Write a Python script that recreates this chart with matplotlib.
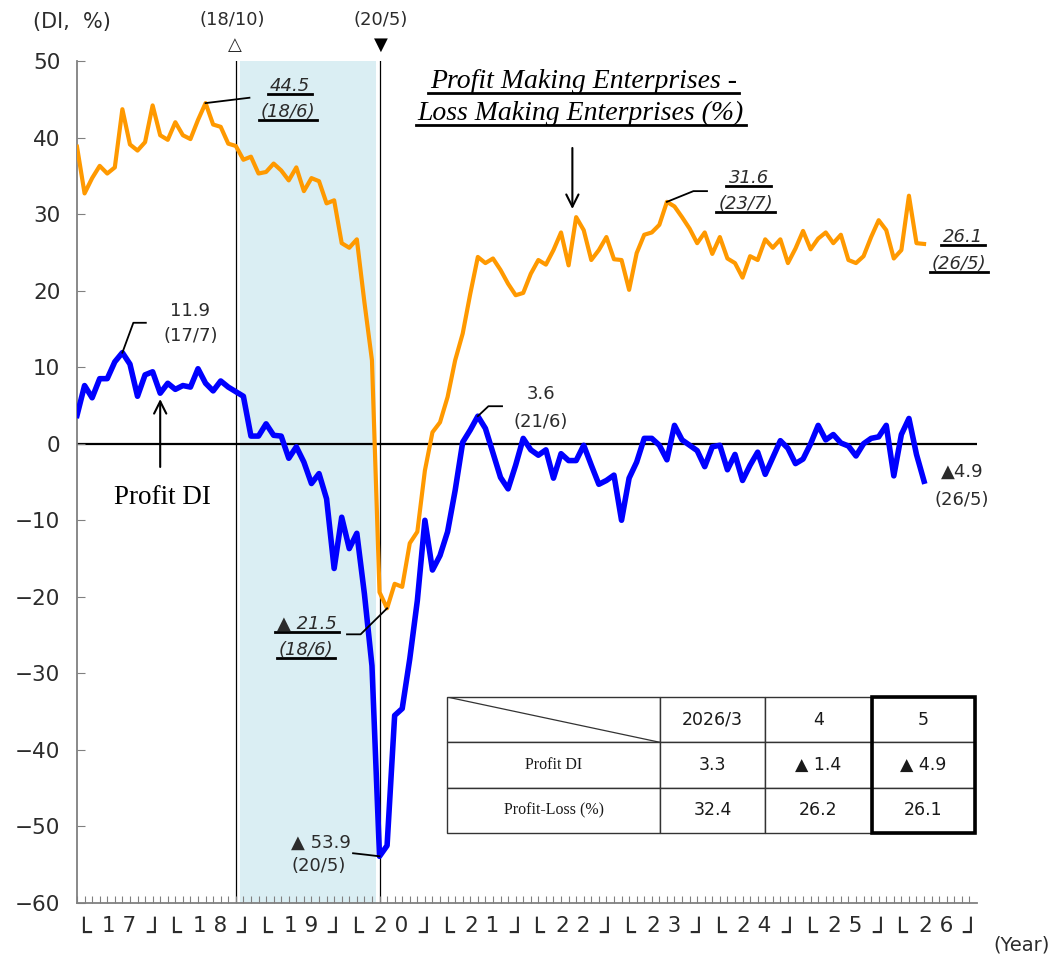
import matplotlib
matplotlib.use('Agg')
import matplotlib.pyplot as plt
import numpy as np
from matplotlib.lines import Line2D
from matplotlib.patches import Rectangle
from matplotlib.transforms import IdentityTransform, blended_transform_factory

plt.rcParams['font.family'] = ['DejaVu Sans']

# monthly, 2017/1 .. 2026/5
profit_di = [
    3.7, 7.6, 6.0, 8.5, 8.5, 10.7, 11.9, 10.4, 6.2, 9.0, 9.4, 6.6,
    7.9, 7.1, 7.6, 7.4, 9.8, 7.9, 6.9, 8.2, 7.4, 6.8, 6.2, 1.0,
    1.0, 2.6, 1.1, 1.0, -1.9, -0.4, -2.4, -5.2, -3.9, -7.2, -16.3, -9.6,
    -13.7, -11.7, -19.6, -29.0, -53.9, -52.5, -35.5, -34.6, -28.1, -20.5, -10.0, -16.5,
    -14.6, -11.5, -6.1, 0.2, 1.8, 3.6, 2.0, -1.2, -4.4, -5.9, -2.8, 0.7,
    -0.8, -1.5, -0.8, -4.5, -1.3, -2.2, -2.2, -0.2, -2.8, -5.3, -4.8, -4.1,
    -10.0, -4.5, -2.4, 0.7, 0.7, -0.2, -2.1, 2.4, 0.5, -0.2, -0.9, -3.0,
    -0.4, -0.2, -3.4, -1.4, -4.8, -2.8, -1.1, -4.0, -1.8, 0.4, -0.6, -2.6,
    -2.0, 0.0, 2.4, 0.5, 1.2, 0.1, -0.3, -1.6, 0.0, 0.7, 0.9, 2.4,
    -4.2, 1.2, 3.3, -1.4, -4.9,
]
profit_loss = [
    38.8, 32.7, 34.7, 36.3, 35.3, 36.1, 43.7, 39.1, 38.3, 39.4, 44.2, 40.3,
    39.7, 42.0, 40.3, 39.8, 42.3, 44.5, 41.7, 41.4, 39.2, 38.9, 37.1, 37.5,
    35.3, 35.5, 36.6, 35.7, 34.4, 36.1, 33.0, 34.7, 34.3, 31.4, 31.8, 26.2,
    25.6, 26.7, 18.5, 10.9, -19.4, -21.5, -18.3, -18.7, -13.0, -11.5, -3.5, 1.5,
    2.8, 6.1, 10.9, 14.4, 19.6, 24.4, 23.6, 24.2, 22.7, 20.9, 19.4, 19.7,
    22.2, 24.0, 23.4, 25.3, 27.6, 23.3, 29.6, 27.9, 24.0, 25.3, 27.0, 24.1,
    24.0, 20.1, 24.9, 27.3, 27.6, 28.6, 31.6, 31.0, 29.6, 28.1, 26.2, 27.6,
    24.8, 27.0, 24.2, 23.6, 21.7, 24.5, 24.0, 26.7, 25.6, 26.7, 23.6, 25.5,
    27.8, 25.4, 26.8, 27.6, 26.2, 27.3, 24.0, 23.6, 24.5, 27.0, 29.2, 27.9,
    24.2, 25.3, 32.4, 26.2, 26.1,
]
year_labels = ['1 7', '1 8', '1 9', '2 0', '2 1', '2 2', '2 3', '2 4', '2 5', '2 6']
table_cols = ['2026/3', '4', '5']
table_rows = ['Profit DI', 'Profit-Loss (%)']

ORANGE = '#FF9900'
BLUE = '#0000FF'
TXT = '#2b2b2b'

x = np.arange(len(profit_di))

fig = plt.figure(figsize=(10.62, 9.56), dpi=100)
ax = fig.add_axes([77 / 1062, 53 / 956, 900 / 1062, 842 / 956])
ax.set_xlim(0, 119)
ax.set_ylim(-60, 50)

for s in ['top', 'right']:
    ax.spines[s].set_visible(False)
for s in ['left', 'bottom']:
    ax.spines[s].set_color('#808080')
    ax.spines[s].set_linewidth(1.3)
ax.set_yticks(range(-60, 51, 10))
ax.tick_params(axis='y', direction='in', length=6, color='#808080', labelsize=15.5,
               pad=12, labelcolor=TXT)
ax.set_xticks(np.arange(0, 119))
ax.tick_params(axis='x', direction='in', length=5, color='#808080', width=0.8,
               labelbottom=False)

# 景気後退期 18/10 - 20/5
ax.axvspan(21.6, 39.6, color='#DAEEF3', lw=0, zorder=0)
ax.axvline(21, color='black', lw=0.9, zorder=1)
ax.axvline(40, color='black', lw=0.9, zorder=1)
ax.axhline(0, color='black', lw=1.6, zorder=1)

ax.plot(x, profit_loss, color=ORANGE, lw=3, solid_joinstyle='round', zorder=3)
ax.plot(x, profit_di, color=BLUE, lw=4, solid_joinstyle='round', zorder=4)

ax.text(20.5, 55.4, '(18/10)', ha='center', va='center', fontsize=13, color=TXT, clip_on=False)
ax.text(20.9, 52.1, '△', ha='center', va='center', fontsize=13, color=TXT, clip_on=False)
ax.text(40.1, 55.4, '(20/5)', ha='center', va='center', fontsize=13, color=TXT, clip_on=False)
ax.text(40.2, 52.1, '▼', ha='center', va='center', fontsize=13, color='black', clip_on=False)

fig.text(72 / 1062, 1 - 22 / 956, '(DI,  %)', ha='center', va='center', fontsize=15, color=TXT)
fig.text(1022 / 1062, 1 - 945 / 956, '(Year)', ha='center', va='center', fontsize=14, color=TXT)

# year labels under the axis
trans = blended_transform_factory(ax.transData, ax.transAxes)
for k, yl in enumerate(year_labels):
    x0 = 12 * k
    ax.text(x0 - 0.3, -0.0365, '└', transform=trans, ha='left', va='center', fontsize=19, color=TXT)
    ax.text(x0 + 5.6, -0.027, yl, transform=trans, ha='center', va='center', fontsize=15.5, color=TXT)
    ax.text(x0 + 11.2, -0.0365, '┘', transform=trans, ha='right', va='center', fontsize=19, color=TXT)

underlined = []


def label(xp, yp, s, italic=False, under=False, size=13):
    t = ax.text(xp, yp, s, ha='center', va='center', fontsize=size, color=TXT,
                style='italic' if italic else 'normal')
    if under:
        underlined.append(t)
    return t


def leader(xs, ys):
    ax.plot(xs, ys, color='black', lw=1.3, zorder=5)


# peaks / troughs
label(28.2, 46.7, '44.5', italic=True, under=True)
label(27.9, 43.3, '(18/6)', italic=True, under=True)
leader([17, 22.8], [profit_loss[17], 45.2])

label(88.8, 34.7, '31.6', italic=True, under=True)
label(88.4, 31.3, '(23/7)', italic=True, under=True)
leader([78, 81.5, 83.3], [profit_loss[78], 33.0, 33.0])

label(117.1, 27.0, '26.1', italic=True, under=True)
label(116.6, 23.5, '(26/5)', italic=True, under=True)

label(30.4, -23.5, '▲ 21.5', italic=True, under=True)
label(30.3, -27.0, '(18/6)', italic=True, under=True)
leader([35.7, 37.5, 41], [-24.9, -24.9, profit_loss[41]])

label(32.2, -52.1, '▲ 53.9')
label(31.9, -55.2, '(20/5)')
leader([36.5, 38.3, 40], [-53.5, -53.7, profit_di[40]])

label(15.0, 17.4, '11.9')
label(15.0, 14.1, '(17/7)')
leader([6, 7.45, 9.1], [profit_di[6], 15.8, 15.8])

label(61.3, 6.5, '3.6')
label(61.3, 2.9, '(21/6)')
leader([53, 54.4, 56.2], [profit_di[53], 4.9, 4.9])

label(117.0, -3.7, '▲4.9')
label(117.0, -7.4, '(26/5)')

# series names
ax.text(11.3, -7.0, 'Profit DI', ha='center', va='center', fontsize=19.5,
        family='Liberation Serif', color='black')
ax.annotate('', xy=(11, 6.2), xytext=(11, -3.4),
            arrowprops=dict(arrowstyle='->', lw=1.5, color='black', mutation_scale=22))

t1 = ax.text(67.0, 47.3, 'Profit Making Enterprises -', ha='center', va='center', fontsize=20,
             family='Liberation Serif', style='italic', color='black')
t2 = ax.text(66.6, 43.2, 'Loss Making Enterprises (%)', ha='center', va='center', fontsize=20,
             family='Liberation Serif', style='italic', color='black')
underlined += [t1, t2]
ax.annotate('', xy=(65.5, 30.3), xytext=(65.5, 39.0),
            arrowprops=dict(arrowstyle='->', lw=1.5, color='black', mutation_scale=22))

# table of latest three months
tax = fig.add_axes([447 / 1062, 1 - 833 / 956, 528 / 1062, 136 / 956])
tax.axis('off')


def fmt(v):
    return f'▲ {abs(v):.1f}' if v < 0 else f'{v:.1f}'


cell_text = [[''] + table_cols,
             [table_rows[0]] + [fmt(v) for v in profit_di[-3:]],
             [table_rows[1]] + [fmt(v) for v in profit_loss[-3:]]]
tbl = tax.table(cellText=cell_text, cellLoc='center', bbox=[0, 0, 1, 1],
                colWidths=[213, 105, 107, 103])
tbl.auto_set_font_size(False)
for (r, c), cell in tbl.get_celld().items():
    cell.set_edgecolor('#333333')
    cell.set_linewidth(1.0)
    txt = cell.get_text()
    txt.set_color('#1a1a1a')
    if c == 0:
        txt.set_fontfamily('Liberation Serif')
        txt.set_fontsize(11.5)
    else:
        txt.set_fontsize(12.5)
tax.plot([0, 213 / 528], [1, 2 / 3], color='#333333', lw=0.9, transform=tax.transAxes)
tax.add_patch(Rectangle((1 - 103 / 528, 0), 103 / 528, 1, fill=False, lw=2.6,
                        edgecolor='black', clip_on=False, transform=tax.transAxes))

fig.canvas.draw()
for t in underlined:
    bb = t.get_window_extent()
    fig.add_artist(Line2D([bb.x0 - 2, bb.x1 + 2], [bb.y0 + 1, bb.y0 + 1],
                          transform=IdentityTransform(), color='black', lw=2.0))

fig.savefig('out.png', dpi=100)
